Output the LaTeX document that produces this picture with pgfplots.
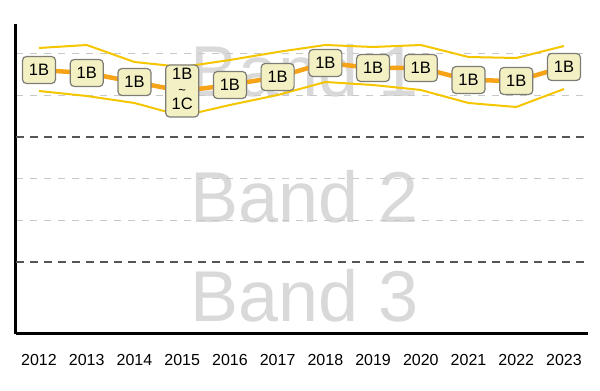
\documentclass[border=0pt]{standalone}
\usepackage{pgfplots}
\pgfplotsset{compat=1.18}
\usepackage{fontspec}
\setmainfont{Liberation Sans}
\definecolor{bandtxt}{RGB}{217,217,217}
\definecolor{env}{RGB}{245,198,0}
\definecolor{oline}{RGB}{247,163,24}
\definecolor{boxfill}{RGB}{243,240,195}
\definecolor{boxdraw}{RGB}{125,125,118}
\definecolor{lightgrid}{RGB}{200,200,200}
\definecolor{darkgrid}{RGB}{85,85,85}
\newcommand{\twolab}{\begin{tabular}{@{}c@{}}1B\\[-3pt]{\fontsize{13}{13}\selectfont\textasciitilde}\\[-3pt]1C\end{tabular}}
\begin{document}
\begin{tikzpicture}
\path[use as bounding box] (0,0) rectangle (600pt,391pt);
\begin{scope}[font=\fontsize{72}{80}\selectfont]
\node[anchor=base, text=bandtxt, inner sep=0pt] at (304.5pt,294pt) {Band 1};
\node[anchor=base, text=bandtxt, inner sep=0pt] at (304.5pt,168pt) {Band 2};
\node[anchor=base, text=bandtxt, inner sep=0pt] at (304.5pt,69pt) {Band 3};
\end{scope}
\begin{axis}[at={(16pt,57pt)}, anchor=south west, width=572pt, height=310pt, scale only axis,
  xmin=2011.518, xmax=2023.503, ymin=0, ymax=310,
  axis x line*=bottom, axis y line*=left,
  axis line style={-, line width=3pt, black},
  xtick={2012,2013,2014,2015,2016,2017,2018,2019,2020,2021,2022,2023},
  xticklabels={2012,2013,2014,2015,2016,2017,2018,2019,2020,2021,2022,2023},
  major tick length=0pt,
  xticklabel style={font=\fontsize{16}{18}\selectfont, yshift=-17pt},
  ytick={113.67,155.33,238.67,280.33}, yticklabels={},
  ymajorgrids,
  grid style={lightgrid, dash pattern=on 7pt off 7pt, line width=1.3pt},
  extra y ticks={72,197}, extra y tick labels={},
  extra y tick style={grid style={darkgrid, dash pattern=on 8pt off 6pt, line width=1.8pt}},
  clip=false]
\addplot[env, line width=2pt] coordinates {(2012,286)(2013,289)(2014,272)(2015,267)(2016,274)(2017,282)(2018,289)(2019,287)(2020,289)(2021,277)(2022,276)(2023,288)};
\addplot[env, line width=2pt] coordinates {(2012,243)(2013,238)(2014,231)(2015,218)(2016,229)(2017,239)(2018,252)(2019,249)(2020,244)(2021,231)(2022,227)(2023,245)};
\addplot[oline, line width=4.5pt, nodes near coords, point meta=explicit symbolic,
  nodes near coords style={anchor=center, text=black, draw=boxdraw, fill=boxfill, line width=1.2pt,
    rounded corners=4pt, minimum width=33pt, minimum height=27pt, inner sep=2pt,
    font=\fontsize{16.5}{18}\selectfont}]
  coordinates {(2012,264)[1B] (2013,261)[1B] (2014,252)[1B] (2015,243)[\twolab] (2016,249)[1B] (2017,257)[1B]
  (2018,271)[1B] (2019,266)[1B] (2020,266)[1B] (2021,254)[1B] (2022,253)[1B] (2023,267)[1B]};
\end{axis}
\end{tikzpicture}
\end{document}
